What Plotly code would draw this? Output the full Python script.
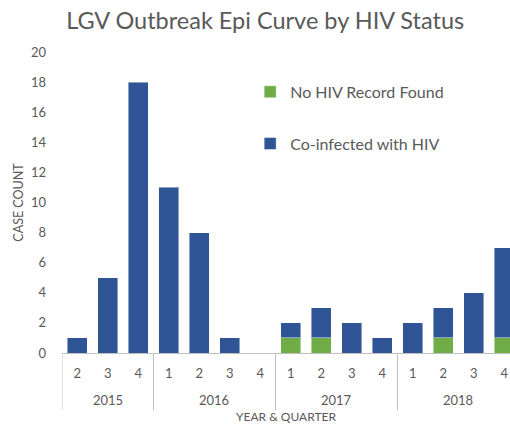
import plotly.graph_objects as go

# ── data ─────────────────────────────────────────────
years = ['2015', '2015', '2015',
         '2016', '2016', '2016', '2016',
         '2017', '2017', '2017', '2017',
         '2018', '2018', '2018', '2018']
quarters = ['2', '3', '4',
            '1', '2', '3', '4',
            '1', '2', '3', '4',
            '1', '2', '3', '4']
no_hiv_record = [0, 0, 0, 0, 0, 0, 0, 1, 1, 0, 0, 0, 1, 0, 1]
co_infected = [1, 5, 18, 11, 8, 1, 0, 1, 2, 2, 1, 2, 2, 4, 6]

FONT = 'Lato'
GREY = '#595959'
LINE = '#bfbfbf'

# one unique category per bar, quarter shown as tick text
cats = [f'{y} Q{q}' for y, q in zip(years, quarters)]

fig = go.Figure()
fig.add_trace(go.Bar(
    x=cats, y=no_hiv_record, name='No HIV Record Found',
    marker=dict(color='#70AD47', line=dict(color='rgba(255,255,255,0.45)', width=1)),
    legendgroup='a', width=0.66,
))
fig.add_trace(go.Bar(
    x=cats, y=co_infected, name='Co-infected with HIV',
    marker=dict(color='#2F5597', line=dict(color='rgba(255,255,255,0.45)', width=1)),
    legendgroup='b', width=0.66,
))

# year labels and group dividers below the axis
groups = []
for i, y in enumerate(years):
    if not groups or groups[-1][0] != y:
        groups.append([y, i, i])
    else:
        groups[-1][2] = i
for y, start, end in groups:
    fig.add_annotation(x=(start + end) / 2, y=-0.157, xref='x', yref='paper',
                       text=y, showarrow=False, yanchor='middle',
                       font=dict(size=13, color=GREY))
    fig.add_shape(type='line', xref='x', yref='paper',
                  x0=start - 0.5, x1=start - 0.5, y0=0, y1=-0.19,
                  line=dict(color=LINE, width=1))

fig.update_layout(
    barmode='stack',
    width=510, height=427,
    margin=dict(l=62, r=0, t=52, b=74),
    plot_bgcolor='white', paper_bgcolor='white',
    font=dict(family=FONT, color=GREY, size=13),
    title=dict(text='LGV Outbreak Epi Curve by HIV Status', x=0.52, xanchor='center',
               y=0.951, yanchor='middle', font=dict(size=23.5, color=GREY)),
    legend=dict(x=0.42, y=0.924, xanchor='left', yanchor='top',
                font=dict(size=16, color=GREY), tracegroupgap=28,
                bgcolor='rgba(0,0,0,0)'),
    showlegend=True,
    xaxis=dict(
        type='category', range=[-0.5, 14.19], automargin=False,
        tickvals=cats, ticktext=quarters,
        showline=True, linecolor=LINE, linewidth=1,
        ticks='', tickfont=dict(size=13, color=GREY), ticklabelstandoff=8,
        title=dict(text='YEAR & QUARTER', font=dict(size=12, color=GREY), standoff=33),
    ),
    yaxis=dict(
        range=[0, 20], dtick=2, showgrid=False, zeroline=False, showline=False,
        automargin=False,
        tickfont=dict(size=13, color=GREY), ticklabelstandoff=15,
        title=dict(text='CASE COUNT', font=dict(size=12.5, color=GREY), standoff=4),
    ),
)

# drop the default page margin so the figure fills the window exactly
fig.write_html('out.html', config={'displayModeBar': False},
               post_script="document.body.style.margin='0';")
